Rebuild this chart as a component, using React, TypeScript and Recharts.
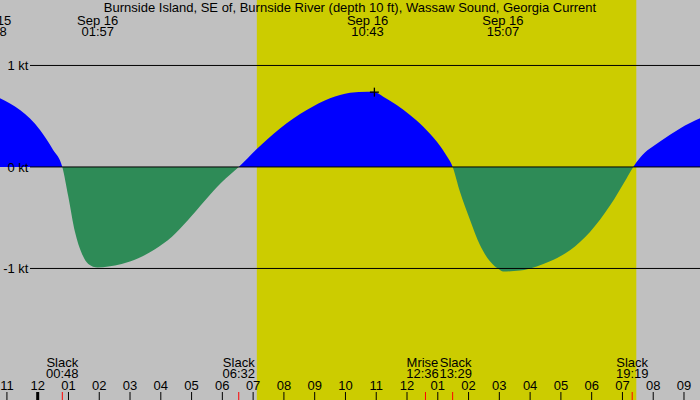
import React from 'react';
import { ComposedChart, Area, XAxis, YAxis, ReferenceArea, ReferenceLine, Scatter } from 'recharts';

const FONT = '"Liberation Sans", Arial, Helvetica, sans-serif';
const W = 700;
const H = 400;

const title = 'Burnside Island, SE of, Burnside River (depth 10 ft), Wassaw Sound, Georgia Current';

// hours since midnight Sep 16 (negative = Sep 15)
const times = [
  -1.225, -0.575, 0.075, 0.497, 0.8, 0.994, 1.212, 1.43, 1.644, 1.95, 2.294, 2.729, 3.269, 3.811,
  4.354, 4.893, 5.436, 5.979, 6.533, 7.126, 7.873, 8.741, 9.498, 9.823, 10.148, 10.717, 10.905,
  11.229, 11.665, 12.097, 12.529, 12.965, 13.234, 13.483, 13.72, 14.045, 14.37, 14.695, 15.02,
  15.117, 15.672, 16.214, 16.647, 17.296, 17.946, 18.596, 19.138, 19.35, 19.571, 20.221, 20.871, 21.52,
];
// current speed in knots (flood +, ebb -)
const speeds = [
  0.677, 0.56, 0.365, 0.17, 0, -0.29, -0.64, -0.85, -0.955, -0.99, -0.98, -0.955, -0.9, -0.81,
  -0.69, -0.52, -0.33, -0.15, 0, 0.18, 0.38, 0.56, 0.677, 0.709, 0.732, 0.742, 0.74,
  0.693, 0.61, 0.512, 0.397, 0.25, 0.135, 0, -0.245, -0.52, -0.77, -0.93, -1.015,
  -1.03, -1.02, -0.98, -0.93, -0.82, -0.64, -0.38, -0.11, 0, 0.09, 0.25, 0.38, 0.48,
];

const xDomain = [-1.225, 21.52];
const yDomain = [-2.296, 1.645];

const hourTicks = [-1, 0, 1, 2, 3, 4, 5, 6, 7, 8, 9, 10, 11, 12, 13, 14, 15, 16, 17, 18, 19, 20, 21];
const hourLabels = ['11', '12', '01', '02', '03', '04', '05', '06', '07', '08', '09', '10', '11', '12', '01', '02', '03', '04', '05', '06', '07', '08', '09'];

const ktValues = [1, 0, -1];
const ktLabels = ['1 kt', '0 kt', '-1 kt'];

// max current events (top labels)
const peakTimes = [-1.533, 1.95, 10.717, 15.117];
const peakDates = ['Sep 15', 'Sep 16', 'Sep 16', 'Sep 16'];
const peakClock = ['22:28', '01:57', '10:43', '15:07'];

// slack / moonrise events (bottom labels)
const eventTimes = [0.8, 6.533, 12.6, 13.483, 19.317];
const eventNames = ['Slack', 'Slack', 'Mrise', 'Slack', 'Slack'];
const eventClock = ['00:48', '06:32', '12:36', '13:29', '19:19'];

const daylight = [7.12, 19.45];

const nowTime = 10.94;
const nowSpeed = 0.737;

const table = times.map((t, i) => ({ t, v: speeds[i] }));

// gradient split exactly at 0 kt within the area's bounding box
const maxV = Math.max(0, ...speeds);
const minV = Math.min(0, ...speeds);
const zeroOffset = maxV / (maxV - minV);

const peakData = peakTimes.map((t, i) => ({ t, v: 0, date: peakDates[i], clock: peakClock[i] }));
const hourData = hourTicks.map((t, i) => ({ t, v: 0, label: hourLabels[i] }));

// spread bottom labels that would overlap (label layout only)
const labelWidthHours = 1.08;
const eventLabelPos = eventTimes.slice();
for (let i = 1; i < eventLabelPos.length; i++) {
  const gap = eventLabelPos[i] - eventLabelPos[i - 1];
  if (gap < labelWidthHours) {
    const push = (labelWidthHours - gap) / 2;
    eventLabelPos[i - 1] -= push;
    eventLabelPos[i] += push;
  }
}
const eventTickData = eventTimes.map((t) => ({ t, v: 0 }));
const eventLabelData = eventLabelPos.map((t, i) => ({ t, v: 0, name: eventNames[i], clock: eventClock[i] }));
const nowData = [{ t: nowTime, v: nowSpeed }];

const textStyle = { fontFamily: FONT, fontSize: 13, fill: '#000' } as const;

const PeakLabel = (p: any) => (
  <g>
    <text x={p.cx} y={24.5} textAnchor="middle" style={textStyle}>{p.payload.date}</text>
    <text x={p.cx} y={36} textAnchor="middle" style={textStyle}>{p.payload.clock}</text>
  </g>
);

const EventLabel = (p: any) => (
  <g>
    <text x={p.cx} y={366.5} textAnchor="middle" style={textStyle}>{p.payload.name}</text>
    <text x={p.cx} y={378.3} textAnchor="middle" style={textStyle}>{p.payload.clock}</text>
  </g>
);

const EventTick = (p: any) => (
  <line x1={p.cx} x2={p.cx} y1={392} y2={400} stroke="#ff0000" strokeWidth={1} />
);

const NowMark = (p: any) => (
  <g stroke="#000" strokeWidth={1.3}>
    <line x1={p.cx - 4.5} x2={p.cx + 4.5} y1={p.cy} y2={p.cy} />
    <line x1={p.cx} x2={p.cx} y1={p.cy - 4.5} y2={p.cy + 4.5} />
  </g>
);

const HourTick = (p: any) => {
  const isMidnight = p.payload.t === 0;
  return (
    <g>
      <text x={p.cx} y={390} textAnchor="middle" style={textStyle}>{p.payload.label}</text>
      {isMidnight ? (
        <rect x={p.cx - 1.5} y={392} width={3} height={8} fill="#000" />
      ) : (
        <line x1={p.cx} x2={p.cx} y1={392} y2={400} stroke="#000" strokeWidth={1} />
      )}
    </g>
  );
};

const makeKtLine = (label: string) => (p: any) => (
  <g>
    <line x1={Math.min(p.x1, p.x2) + 30} x2={Math.max(p.x1, p.x2)} y1={p.y1} y2={p.y2} stroke="#000" strokeWidth={1} />
    <text x={Math.min(p.x1, p.x2) + 28.5} y={p.y1 + 4.7} textAnchor="end" style={textStyle}>{label}</text>
  </g>
);

export default function App() {
  return (
    <div style={{ position: 'absolute', left: 0, top: 0, width: W, height: H, background: '#c0c0c0' }}>
      <ComposedChart
        width={W}
        height={H}
        data={table}
        margin={{ top: 0, right: 0, bottom: 0, left: 0 }}
        style={{ position: 'absolute', left: 0, top: 0 }}
      >
        <defs>
          <linearGradient id="currentFill" x1="0" y1="0" x2="0" y2="1">
            <stop offset={0} stopColor="#0000ff" />
            <stop offset={zeroOffset} stopColor="#0000ff" />
            <stop offset={zeroOffset} stopColor="#2e8b57" />
            <stop offset={1} stopColor="#2e8b57" />
          </linearGradient>
        </defs>
        <XAxis dataKey="t" type="number" domain={xDomain} allowDataOverflow hide />
        <YAxis type="number" domain={yDomain} allowDataOverflow hide />
        <ReferenceArea
          x1={daylight[0]}
          x2={daylight[1]}
          y1={yDomain[0]}
          y2={yDomain[1]}
          fill="#cccc00"
          fillOpacity={1}
          stroke="none"
          zIndex={-100}
        />
        <Area
          dataKey="v"
          type="monotone"
          baseValue={0}
          fill="url(#currentFill)"
          fillOpacity={1}
          stroke="none"
          isAnimationActive={false}
        />
        {ktValues.map((v, i) => (
          <ReferenceLine key={v} y={v} stroke="#000" shape={makeKtLine(ktLabels[i])} zIndex={700} />
        ))}
        <Scatter data={peakData} dataKey="v" shape={PeakLabel} isAnimationActive={false} />
        <Scatter data={hourData} dataKey="v" shape={HourTick} isAnimationActive={false} />
        <Scatter data={eventLabelData} dataKey="v" shape={EventLabel} isAnimationActive={false} />
        <Scatter data={eventTickData} dataKey="v" shape={EventTick} isAnimationActive={false} />
        <Scatter data={nowData} dataKey="v" shape={NowMark} isAnimationActive={false} />
      </ComposedChart>
      <svg width={W} height={H} style={{ position: 'absolute', left: 0, top: 0, pointerEvents: 'none' }}>
        <text x={350} y={12} textAnchor="middle" style={textStyle}>{title}</text>
      </svg>
    </div>
  );
}
